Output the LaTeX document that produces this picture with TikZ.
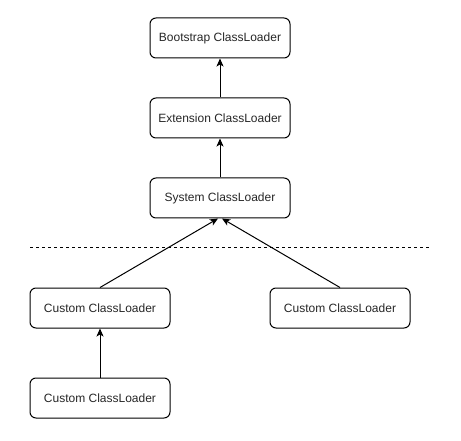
\documentclass[tikz,border=0pt]{standalone}
\usepackage{fontspec}
\setmainfont{Liberation Sans}
\usetikzlibrary{arrows.meta}
\begin{document}
\begin{tikzpicture}[x=1pt,y=-1pt,
  loader/.style={draw, line width=1pt, rounded corners=6pt, minimum width=140pt, minimum height=40pt, inner sep=0pt, font=\fontsize{12}{14}\selectfont, text=black!85},
  parent/.style={-{Stealth[length=8pt,width=7pt,inset=2pt]}, line width=1pt}]
\useasboundingbox (0,0) rectangle (461,441);
\node[loader] (boot) at (220,38) {Bootstrap ClassLoader};
\node[loader] (ext) at (220,118) {Extension ClassLoader};
\node[loader] (sys) at (220,198) {System ClassLoader};
\node[loader] (c1) at (100,308) {Custom ClassLoader};
\node[loader] (c2) at (340,308) {Custom ClassLoader};
\node[loader] (c3) at (100,398) {Custom ClassLoader};
\coordinate (dl) at (30,248);
\coordinate (dr) at (430,248);
\draw[dashed, line width=1pt, dash pattern=on 3pt off 3pt] (dl) -- (dr);
\draw[parent] (ext) -- (boot);
\draw[parent] (sys) -- (ext);
\draw[parent] (c1.north) -- ([xshift=-2pt]sys.south);
\draw[parent] (c2.north) -- ([xshift=2pt]sys.south);
\draw[parent] (c3) -- (c1);
\end{tikzpicture}
\end{document}
